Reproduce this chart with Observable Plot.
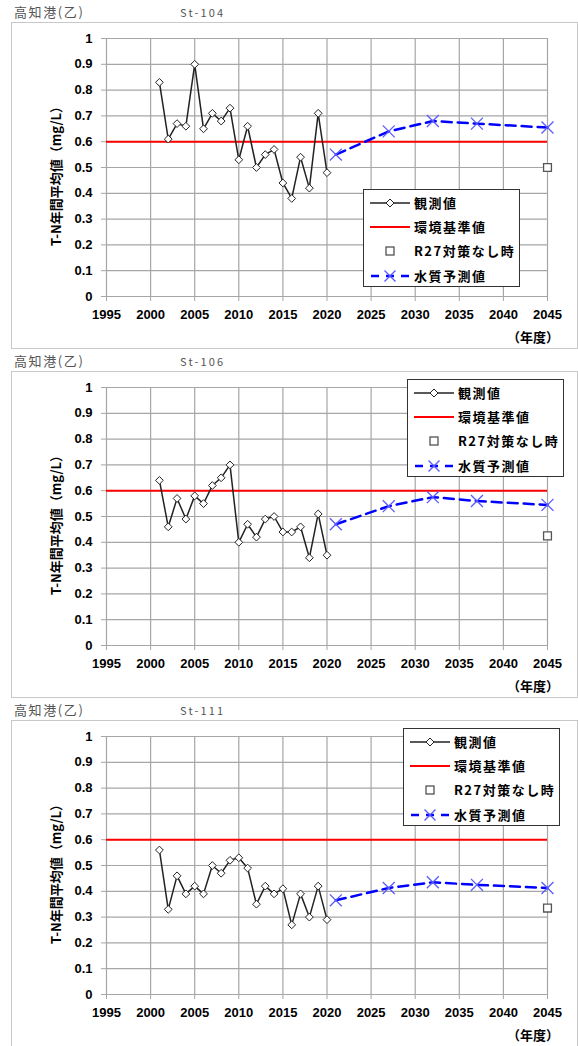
<!DOCTYPE html>
<html>
<head>
<meta charset="utf-8">
<script src="https://cdn.jsdelivr.net/npm/d3@7"></script>
<script src="https://cdn.jsdelivr.net/npm/@observablehq/plot@0.6"></script>
<style>
  body { margin: 0; background: #fff; }
  .panel { position: relative; width: 578px; height: 349px; overflow: hidden; }
  .hdr { position: absolute; top: 0; left: 0; width: 578px; height: 22px; font-family: "Noto Sans CJK JP", sans-serif; color: #555; }
  .port { position: absolute; left: 14px; top: 2px; font-size: 13px; letter-spacing: 1.6px; }
  .stn { position: absolute; left: 180px; top: 4px; font-size: 11px; letter-spacing: 2.2px; }
  .box { position: absolute; left: 11px; top: 22px; width: 565px; height: 325px; border: 1px solid #c8c8c8; background: #fff; }
  .ylab { position: absolute; white-space: nowrap; transform: translate(-50%, -50%) rotate(-90deg); font-family: "Noto Sans CJK JP", sans-serif; font-weight: bold; font-size: 13px; color: #000; }
  .xlab { position: absolute; white-space: nowrap; transform: translate(-50%, -50%); font-family: "Noto Sans CJK JP", sans-serif; font-weight: bold; font-size: 13px; color: #000; }
  .legend { position: absolute; width: 155px; height: 96px; border: 1px solid #333; background: #fff; font-family: "Noto Sans CJK JP", sans-serif; font-weight: bold; font-size: 13px; letter-spacing: 1.5px; color: #000; }
  .row { position: absolute; left: 0; height: 20px; width: 155px; }
  .row svg { position: absolute; left: 6px; top: 0; }
  .row span { position: absolute; left: 50px; top: 0; line-height: 20px; white-space: nowrap; }
</style>
</head>
<body>
<div id="root"></div>
<script>
// ---- data ----
const portName = "高知港(乙)";
const stations = ["St-104", "St-106", "St-111"];
const obsYears = [2001,2002,2003,2004,2005,2006,2007,2008,2009,2010,2011,2012,2013,2014,2015,2016,2017,2018,2019,2020];
const obs104 = [0.83,0.61,0.67,0.66,0.90,0.65,0.71,0.68,0.73,0.53,0.66,0.50,0.55,0.57,0.44,0.38,0.54,0.42,0.71,0.48];
const obs106 = [0.64,0.46,0.57,0.49,0.58,0.55,0.62,0.65,0.70,0.40,0.47,0.42,0.49,0.50,0.44,0.44,0.46,0.34,0.51,0.35];
const obs111 = [0.56,0.33,0.46,0.39,0.42,0.39,0.50,0.47,0.52,0.53,0.49,0.35,0.42,0.39,0.41,0.27,0.39,0.30,0.42,0.29];
const predYears = [2021,2027,2032,2037,2045];
const pred104 = [0.55,0.64,0.68,0.67,0.655];
const pred106 = [0.47,0.54,0.575,0.56,0.545];
const pred111 = [0.365,0.413,0.435,0.425,0.413];
const r27Year = [2045];
const r27Values = [0.50, 0.425, 0.335];
const standardValue = [0.6];
const xTicks = [1995,2000,2005,2010,2015,2020,2025,2030,2035,2040,2045];
const yTicks = [0,0.1,0.2,0.3,0.4,0.5,0.6,0.7,0.8,0.9,1];
const yLabel = "T-N年間平均値（mg/L）";
const xLabel = "（年度）";
const legendLabels = ["観測値","環境基準値","R27対策なし時","水質予測値"];

const obsSeries = [obs104, obs106, obs111];
const predSeries = [pred104, pred106, pred111];
// legend placement (box-relative) per panel
const legendPos = [[351,166],[395,7],[391,7]];

const root = document.getElementById("root");

function legendHTML() {
  const syms = [
    `<svg width="40" height="20"><line x1="0" y1="10" x2="40" y2="10" stroke="#222" stroke-width="1.5"/><path d="M20,6 L24,10 L20,14 L16,10 Z" fill="#fff" stroke="#222" stroke-width="1"/></svg>`,
    `<svg width="40" height="20"><line x1="0" y1="10" x2="40" y2="10" stroke="#ff0000" stroke-width="2"/></svg>`,
    `<svg width="40" height="20"><rect x="16" y="6" width="8" height="8" fill="#fff" stroke="#444" stroke-width="1.2"/></svg>`,
    `<svg width="40" height="20"><line x1="0" y1="10" x2="40" y2="10" stroke="#0000ff" stroke-width="2.5" stroke-dasharray="8,7" stroke-dashoffset="-1"/><path d="M14.5,4.5 L25.5,15.5 M25.5,4.5 L14.5,15.5" stroke="#5a5aff" stroke-width="1.4"/></svg>`
  ];
  const tops = [3, 27, 51, 76];
  return legendLabels.map((t, i) => `<div class="row" style="top:${tops[i]}px">${syms[i]}<span>${t}</span></div>`).join("");
}

stations.forEach((st, i) => {
  const obs = obsYears.map((y, k) => ({year: y, v: obsSeries[i][k]}));
  const pred = predYears.map((y, k) => ({year: y, v: predSeries[i][k]}));
  const r27 = r27Year.map(y => ({year: y, v: r27Values[i]}));

  const panel = document.createElement("div");
  panel.className = "panel";
  panel.innerHTML = `<div class="hdr"><span class="port">${portName}</span><span class="stn">${st}</span></div>`;
  const box = document.createElement("div");
  box.className = "box";

  const chart = Plot.plot({
    width: 565, height: 325,
    marginLeft: 94, marginRight: 30, marginTop: 15, marginBottom: 52,
    style: {fontFamily: "'Liberation Sans', Arial, sans-serif", fontSize: "13px", fontWeight: "bold", background: "white", color: "black", overflow: "visible"},
    x: {domain: [1995, 2045]},
    y: {domain: [0, 1]},
    marks: [
      Plot.gridX(xTicks, {stroke: "#a6a6a6", strokeOpacity: 1, strokeWidth: 1.2}),
      Plot.gridY(yTicks, {stroke: "#a6a6a6", strokeOpacity: 1, strokeWidth: 1.2}),
      Plot.axisX(xTicks, {tickSize: 5, tickPadding: 8, stroke: "#a6a6a6", fill: "black", label: null, tickFormat: d => String(d)}),
      Plot.axisY(yTicks, {tickSize: 5, tickPadding: 9, stroke: "#a6a6a6", fill: "black", label: null, tickFormat: d => String(+d.toFixed(1))}),
      Plot.ruleY(standardValue, {stroke: "#ff0000", strokeWidth: 2}),
      Plot.line(obs, {x: "year", y: "v", stroke: "#222", strokeWidth: 1.5}),
      Plot.dot(obs, {x: "year", y: "v", symbol: "diamond2", r: 3.5, fill: "white", stroke: "#222", strokeWidth: 1}),
      Plot.line(pred, {x: "year", y: "v", stroke: "#0000ff", strokeWidth: 2.5, strokeDasharray: "10,6"}),
      Plot.dot(pred, {x: "year", y: "v", symbol: "times", r: 5.5, stroke: "#5a5aff", strokeWidth: 1.3}),
      Plot.dot(r27, {x: "year", y: "v", symbol: "square2", r: 5, fill: "white", stroke: "#555", strokeWidth: 1.3})
    ]
  });
  box.appendChild(chart);

  const yl = document.createElement("div");
  yl.className = "ylab";
  yl.style.left = "43px"; yl.style.top = "150px";
  yl.textContent = yLabel;
  box.appendChild(yl);

  const xl = document.createElement("div");
  xl.className = "xlab";
  xl.style.left = "521px"; xl.style.top = "313px";
  xl.textContent = xLabel;
  box.appendChild(xl);

  const lg = document.createElement("div");
  lg.className = "legend";
  lg.style.left = legendPos[i][0] + "px"; lg.style.top = legendPos[i][1] + "px";
  lg.innerHTML = legendHTML();
  box.appendChild(lg);

  panel.appendChild(box);
  root.appendChild(panel);
});
</script>
</body>
</html>
